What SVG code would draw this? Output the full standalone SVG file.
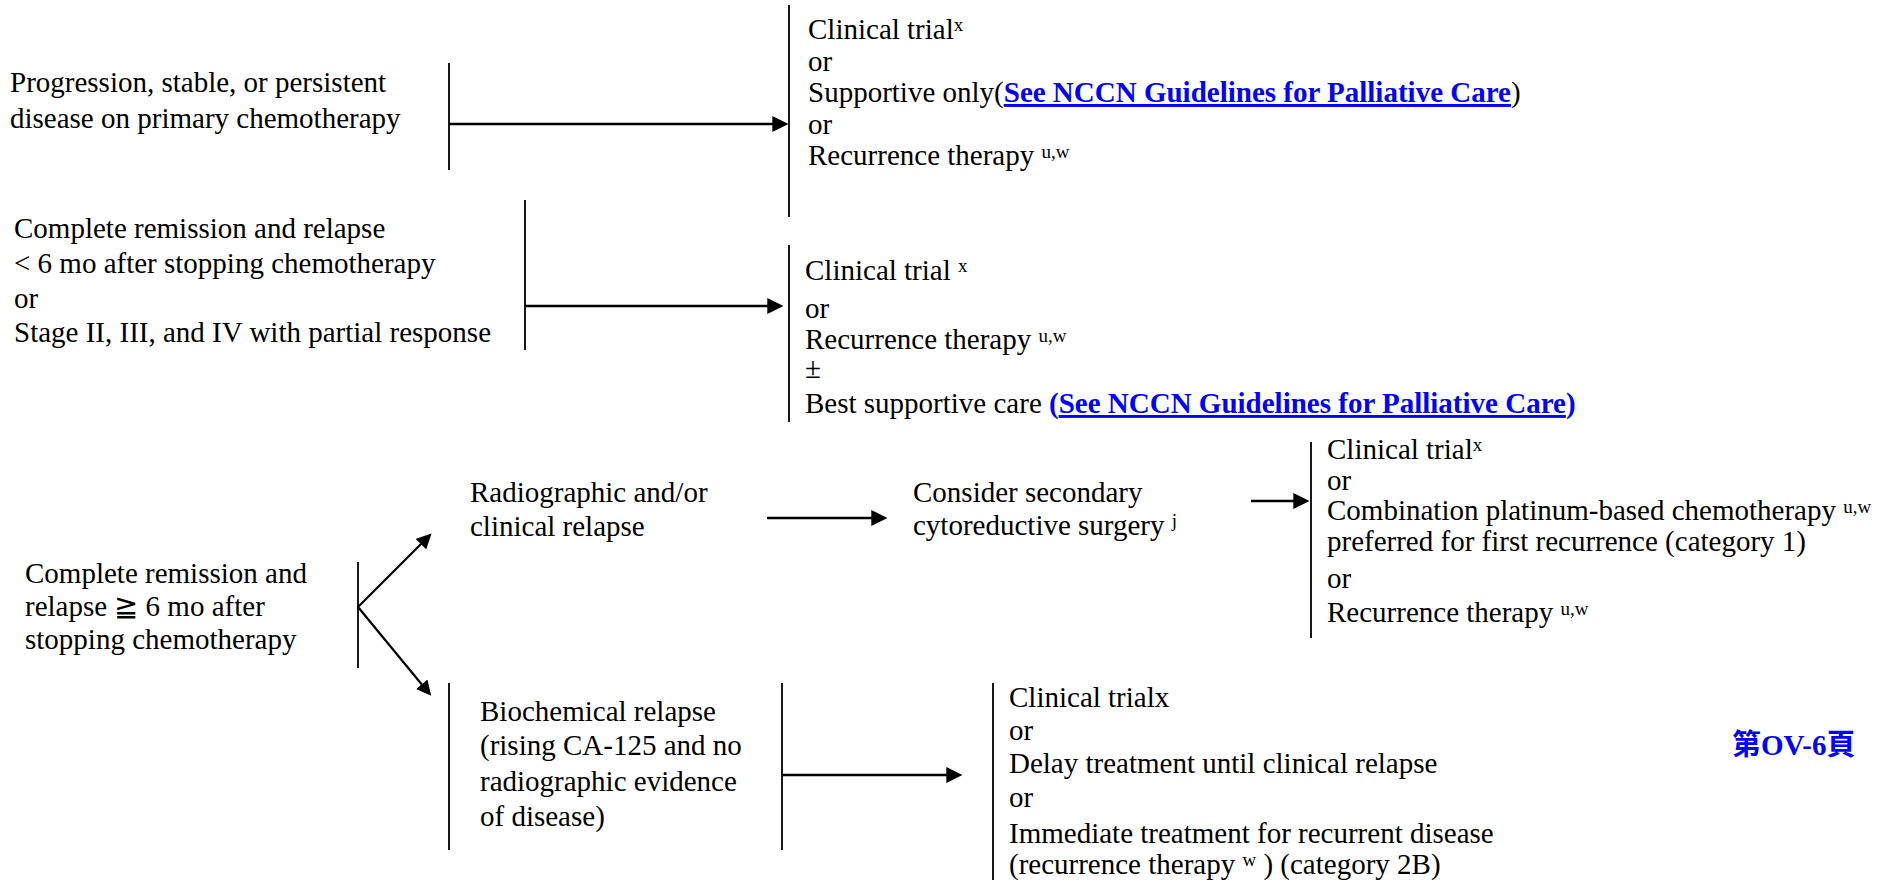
<svg xmlns="http://www.w3.org/2000/svg" width="1888" height="880" viewBox="0 0 1888 880">
<defs>
<style>
text{font-family:"Liberation Serif","Times New Roman",serif;font-size:29px;fill:#000}
.sup{font-size:19px}
.link{font-weight:bold;fill:#0000FF}
.ul{text-decoration:underline}
.page{font-family:"Liberation Serif","Noto Sans CJK TC",serif;font-weight:bold;fill:#0000FF}
.br{stroke:#000;stroke-width:1.8;fill:none}
.ar{stroke:#000;stroke-width:2.6;fill:none;marker-end:url(#ah)}
.ard{stroke:#000;stroke-width:2.2;fill:none;marker-end:url(#ah2)}
</style>
<marker id="ah" markerUnits="userSpaceOnUse" markerWidth="16" markerHeight="16" viewBox="0 0 15 15" refX="10" refY="7.5" orient="auto">
<path d="M0,0 L15,7.5 L0,15 z" fill="#000"/>
</marker>
<marker id="ah2" markerUnits="userSpaceOnUse" markerWidth="15" markerHeight="15" viewBox="0 0 15 15" refX="10" refY="7.5" orient="auto">
<path d="M0,0 L15,7.5 L0,15 z" fill="#000"/>
</marker>
</defs>

<g id="connectors">
<line class="br" x1="449" y1="63" x2="449" y2="170"/>
<line class="ar" x1="449" y1="124" x2="783" y2="124"/>
<line class="br" x1="789" y1="5" x2="789" y2="217"/>

<line class="br" x1="525" y1="200" x2="525" y2="350"/>
<line class="ar" x1="525" y1="306" x2="778" y2="306"/>
<line class="br" x1="789" y1="245" x2="789" y2="422"/>

<line class="br" x1="358" y1="562" x2="358" y2="668"/>
<line class="ard" x1="358" y1="607" x2="428" y2="537"/>
<line class="ard" x1="358" y1="607" x2="428" y2="692"/>
<line class="ar" x1="767" y1="518" x2="882" y2="518"/>
<line class="ar" x1="1251" y1="501" x2="1304" y2="501"/>
<line class="br" x1="1311" y1="442" x2="1311" y2="638"/>

<line class="br" x1="449" y1="683" x2="449" y2="850"/>
<line class="br" x1="782" y1="683" x2="782" y2="850"/>
<line class="ar" x1="782" y1="775" x2="957" y2="775"/>
<line class="br" x1="993" y1="683" x2="993" y2="880"/>
</g>

<g id="node-progression">
<text x="10" y="92">Progression, stable, or persistent</text>
<text x="10" y="128">disease on primary chemotherapy</text>
</g>

<g id="node-options1">
<text x="808" y="39">Clinical trial<tspan class="sup" dy="-8">x</tspan></text>
<text x="808" y="71">or</text>
<text x="808" y="102">Supportive only(<tspan class="link ul">See NCCN Guidelines for Palliative Care</tspan>)</text>
<text x="808" y="134">or</text>
<text x="808" y="165">Recurrence therapy <tspan class="sup" dy="-7">u,w</tspan></text>
</g>

<g id="node-complete-lt6">
<text x="14" y="238">Complete remission and relapse</text>
<text x="14" y="273">&lt; 6 mo after stopping chemotherapy</text>
<text x="14" y="308">or</text>
<text x="14" y="342">Stage II, III, and IV with partial response</text>
</g>

<g id="node-options2">
<text x="805" y="280">Clinical trial <tspan class="sup" dy="-8">x</tspan></text>
<text x="805" y="318">or</text>
<text x="805" y="349">Recurrence therapy <tspan class="sup" dy="-7">u,w</tspan></text>
<text x="805" y="378">±</text>
<text x="805" y="413">Best supportive care <tspan class="link">(<tspan class="ul">See NCCN Guidelines for Palliative Care</tspan>)</tspan></text>
</g>

<g id="node-complete-ge6">
<text x="25" y="583">Complete remission and</text>
<text x="25" y="616">relapse ≧ 6 mo after</text>
<text x="25" y="649">stopping chemotherapy</text>
</g>

<g id="node-radiographic">
<text x="470" y="502">Radiographic and/or</text>
<text x="470" y="536">clinical relapse</text>
</g>

<g id="node-surgery">
<text x="913" y="502">Consider secondary</text>
<text x="913" y="535">cytoreductive surgery <tspan class="sup" dy="-8">j</tspan></text>
</g>

<g id="node-options3">
<text x="1327" y="459">Clinical trial<tspan class="sup" dy="-8">x</tspan></text>
<text x="1327" y="490">or</text>
<text x="1327" y="520">Combination platinum-based chemotherapy <tspan class="sup" dy="-7">u,w</tspan></text>
<text x="1327" y="551">preferred for first recurrence (category 1)</text>
<text x="1327" y="588">or</text>
<text x="1327" y="622">Recurrence therapy <tspan class="sup" dy="-7">u,w</tspan></text>
</g>

<g id="node-biochemical">
<text x="480" y="721">Biochemical relapse</text>
<text x="480" y="755">(rising CA-125 and no</text>
<text x="480" y="791">radiographic evidence</text>
<text x="480" y="826">of disease)</text>
</g>

<g id="node-options4">
<text x="1009" y="707">Clinical trialx</text>
<text x="1009" y="740">or</text>
<text x="1009" y="773">Delay treatment until clinical relapse</text>
<text x="1009" y="807">or</text>
<text x="1009" y="843">Immediate treatment for recurrent disease</text>
<text x="1009" y="874">(recurrence therapy <tspan class="sup" dy="-8">w</tspan><tspan dy="8"> ) (category 2B)</tspan></text>
</g>

<g id="node-page">
<text class="page" x="1732" y="755">第OV-6頁</text>
</g>
</svg>
